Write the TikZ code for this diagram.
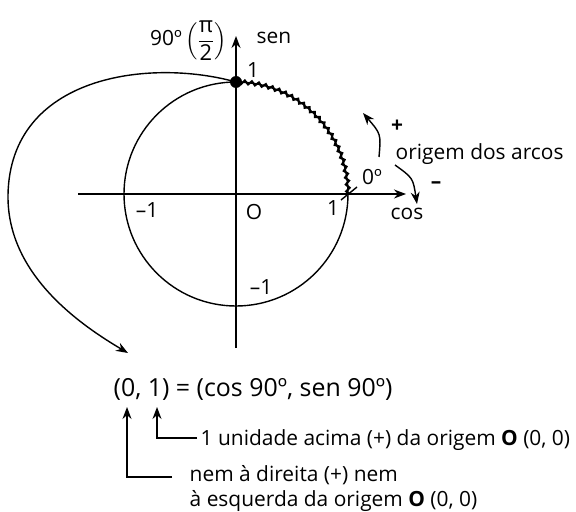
\documentclass[tikz,border=0pt]{standalone}
\usepackage{exscale}
\usepackage{fontspec}
\setmainfont{Open Sans}
\usetikzlibrary{arrows.meta,decorations.pathmorphing}
\begin{document}
\begin{tikzpicture}[x=1bp,y=-1bp,
  line width=1.4bp,
  lbl/.style={font=\fontsize{21}{26}\selectfont, inner sep=0pt},
  big/.style={font=\fontsize{25}{30}\selectfont, inner sep=0pt},
  arr/.style={-{Stealth[length=12bp,width=9bp]}},
]
\useasboundingbox (0,0) rectangle (576,512);
% geometry
\coordinate (O) at (236,194);
\coordinate (xl) at (78,194);
\coordinate (xr) at (406,194);
\coordinate (yb) at (236,348);
\coordinate (yt) at (236,36);
\coordinate (P) at (236,82);
\coordinate (A) at (348,194);
% axes and circle
\draw[arr] (xl) -- (xr);
\draw[arr] (yb) -- (yt);
\draw (O) circle[radius=112];
% wavy arc
\draw[line width=2.1bp, line join=miter, decorate, decoration={zigzag, segment length=7bp, amplitude=1.8bp}]
  (P) arc[start angle=-90, end angle=0, radius=112];
% tick at 1
\coordinate (t1) at (341,200);
\coordinate (t2) at (357,187);
\draw (t1) -- (t2);
% big curved arrow
\coordinate (bigtip) at (128,353);
\draw[arr] (P) .. controls (150,58) and (10,75) .. (8,195) .. controls (7,270) and (72,320) .. (bigtip);
\fill (P) circle[radius=6];
% orientation arrows
\coordinate (ps) at (379,157);
\coordinate (pe) at (363,113);
\draw[arr] (ps) .. controls (381,134) .. (pe);
\coordinate (ms) at (395,165);
\coordinate (me) at (417,204);
\draw[arr] (ms) .. controls (413,178) .. (me);
% labels
\node[lbl] (l90) at (166,38) {90º};
\node[font=\fontsize{22}{27}\selectfont, inner sep=0pt] (lpi) at (206,41) {$\displaystyle\left(\frac{\mbox{π}}{\mbox{2}}\right)$};
\node[lbl] (lsen) at (274,38) {sen};
\node[lbl] (l1t) at (253,70) {1};
\node[lbl] (lm1) at (147,210) {–1};
\node[lbl] (lO) at (254,212) {O};
\node[lbl] (lm1b) at (261,287) {–1};
\node[lbl] (l1r) at (333,208) {1};
\node[lbl] (l0) at (372,177) {0º};
\node[lbl] (lplus) at (397,126) {\textbf{+}};
\node[lbl, anchor=west] (lorig) at (395,154) {origem dos arcos};
\node[lbl] (lminus) at (436,185) {\textbf{–}};
\node[lbl] (lcos) at (407,214) {cos};
% bottom
\node[big, anchor=base west] (f) at (113,396) {(0, 1) = (cos 90º, sen 90º)};
\coordinate (pa) at (127,407);
\coordinate (pb) at (157,407);
\node[lbl, anchor=base west] (tb) at (200,445) {1 unidade acima (+) da origem \textbf{O} (0, 0)};
\node[lbl, anchor=base west] (ta1) at (189,481) {nem à direita (+) nem};
\node[lbl, anchor=base west] (ta2) at (189,506) {à esquerda da origem \textbf{O} (0, 0)};
\coordinate (qa) at (172,477);
\coordinate (qb) at (197,438);
\draw[arr] (qb) -| (pb);
\draw[arr] (qa) -| (pa);
\end{tikzpicture}
\end{document}
